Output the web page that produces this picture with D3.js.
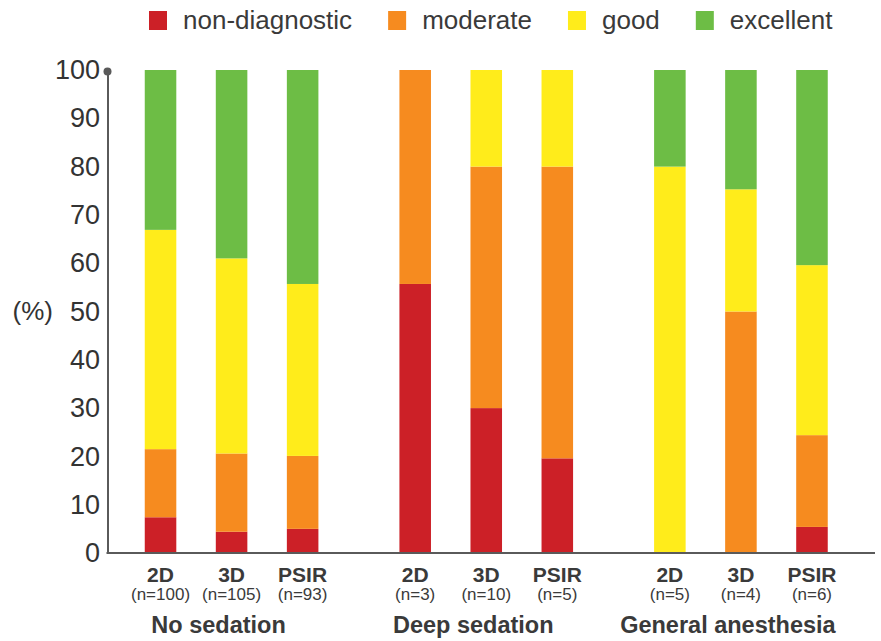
<!DOCTYPE html>
<html>
<head>
<meta charset="utf-8">
<script src="https://cdn.jsdelivr.net/npm/d3@7"></script>
<style>
  html, body { margin: 0; padding: 0; background: #fff; }
  svg { display: block; font-family: "Liberation Sans", Arial, Helvetica, sans-serif; }
</style>
</head>
<body>
<svg id="chart" width="881" height="641"></svg>
<script>
// ---- data ----
const groups = ["No sedation", "Deep sedation", "General anesthesia"];
const methods = ["2D", "3D", "PSIR"];
const sampleSizes = [100, 105, 93, 3, 10, 5, 5, 4, 6];
const categories = ["non-diagnostic", "moderate", "good", "excellent"];
const nonDiagnostic = [7.4, 4.4, 5.0, 55.7, 30, 19.6, 0, 0, 5.4];
const moderate      = [14.1, 16.2, 15.1, 44.3, 50, 60.4, 0, 50, 19.0];
const good          = [45.4, 40.4, 35.6, 0, 20, 20, 80, 25.3, 35.2];
const excellent     = [33.1, 39.0, 44.3, 0, 0, 0, 20, 24.7, 40.4];
const yTicks = [0, 10, 20, 30, 40, 50, 60, 70, 80, 90, 100];
const yTitle = "(%)";
const colors = ["#cc2027", "#f68b1f", "#ffec1b", "#6dbd45"];

// ---- build rows ----
const seriesValues = [nonDiagnostic, moderate, good, excellent];
const rows = [];
groups.forEach((g, gi) => {
  methods.forEach((m, mi) => {
    const i = gi * methods.length + mi;
    const row = { group: g, method: m, n: sampleSizes[i] };
    categories.forEach((c, ci) => { row[c] = seriesValues[ci][i]; });
    rows.push(row);
  });
});

const svg = d3.select("#chart");
const axisX = 107.5;
const y = d3.scaleLinear().domain([0, 100]).range([553, 70]);
const x0 = d3.scaleBand().domain(groups).range([125, 847.5]).paddingInner(0.163).paddingOuter(0);
const x1 = d3.scaleBand().domain(methods).range([0, x0.bandwidth()]).paddingInner(0.556).paddingOuter(0.278);
const color = d3.scaleOrdinal().domain(categories).range(colors);

// ---- bars ----
const stack = d3.stack().keys(categories);
const stacked = stack(rows);
svg.append("g").selectAll("g")
  .data(stacked)
  .join("g")
  .attr("fill", d => color(d.key))
  .selectAll("rect")
  .data(d => d.filter(s => s[1] - s[0] > 0))
  .join("rect")
  .attr("x", d => x0(d.data.group) + x1(d.data.method))
  .attr("width", x1.bandwidth())
  .attr("y", d => y(d[1]))
  .attr("height", d => y(d[0]) - y(d[1]));

// ---- y axis ----
const yAxis = d3.axisLeft(y).tickValues(yTicks).tickSize(0).tickSizeOuter(0).tickPadding(7.5);
const gy = svg.append("g").attr("transform", `translate(${axisX},0)`).call(yAxis);
gy.select(".domain").attr("stroke", "#5a5a5a").attr("stroke-width", 2);
gy.selectAll("text")
  .attr("font-size", 27)
  .attr("font-family", "Liberation Sans, Arial, sans-serif")
  .attr("fill", "#333");
gy.append("circle").attr("cx", 0).attr("cy", y(100) + 1.5).attr("r", 4).attr("fill", "#5a5a5a");

svg.append("text")
  .attr("x", 53).attr("y", y(50)).attr("dy", "0.34em")
  .attr("text-anchor", "end")
  .attr("font-size", 26).attr("fill", "#333")
  .text(yTitle);

// ---- baseline ----
svg.append("line")
  .attr("x1", axisX - 1).attr("x2", 875)
  .attr("y1", y(0)).attr("y2", y(0))
  .attr("stroke", "#5a5a5a").attr("stroke-width", 2);

// ---- x labels ----
const xl = svg.append("g");
rows.forEach(r => {
  const cx = x0(r.group) + x1(r.method) + x1.bandwidth() / 2;
  xl.append("text").attr("x", cx).attr("y", 582)
    .attr("text-anchor", "middle").attr("font-size", 21).attr("font-weight", "bold")
    .attr("fill", "#3a3a3a").text(r.method);
  xl.append("text").attr("x", cx).attr("y", 600)
    .attr("text-anchor", "middle").attr("font-size", 17)
    .attr("fill", "#3a3a3a").text(`(n=${r.n})`);
});
groups.forEach(g => {
  xl.append("text").attr("x", x0(g) + x0.bandwidth() / 2 - 13).attr("y", 633)
    .attr("text-anchor", "middle").attr("font-size", 23.5).attr("font-weight", "bold")
    .attr("fill", "#3a3a3a").text(g);
});

// ---- legend ----
const legend = svg.append("g");
let lx = 149;
categories.forEach(c => {
  legend.append("rect").attr("x", lx).attr("y", 11).attr("width", 18).attr("height", 19).attr("fill", color(c));
  const t = legend.append("text").attr("x", lx + 34).attr("y", 29)
    .attr("font-size", 26).attr("fill", "#3a3a3a").text(c);
  const w = t.node().getComputedTextLength();
  lx = lx + 34 + w + 36;
});
</script>
</body>
</html>
